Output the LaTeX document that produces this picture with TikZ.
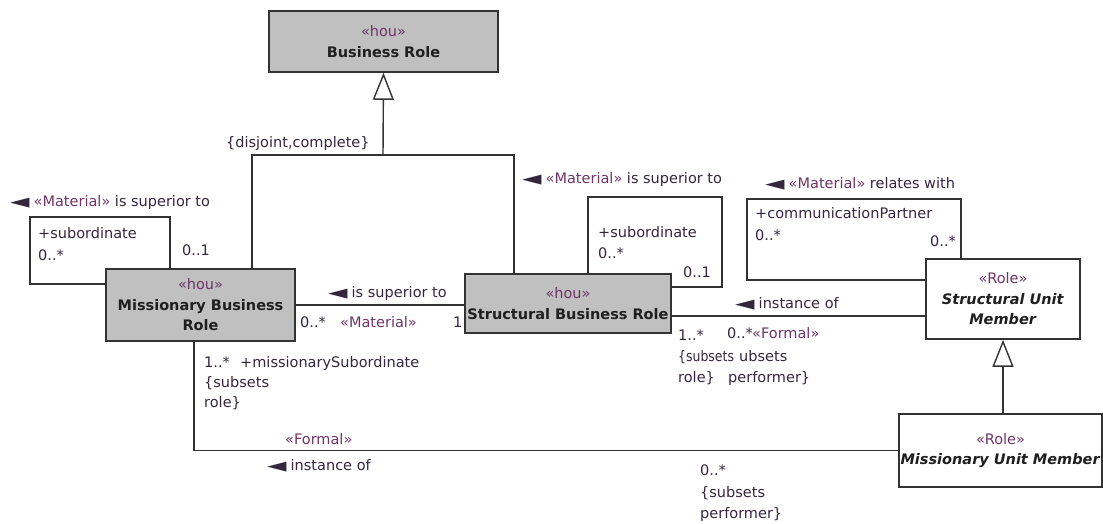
\documentclass[tikz,border=0pt]{standalone}
\usepackage{fontspec}
\setmainfont{DejaVu Sans}
\usetikzlibrary{arrows.meta,positioning}
\definecolor{stereo}{HTML}{6E3468}
\definecolor{lbl}{HTML}{33263D}
\definecolor{rolegray}{HTML}{C0C0C0}
\definecolor{edge}{HTML}{333333}
\newcommand{\dirl}{\scalebox{1.75}[0.9]{◀}\hspace{4pt}}
\newcommand{\st}[1]{\textcolor{stereo}{«#1»}}

\begin{document}
\begin{tikzpicture}[x=1pt,y=-1pt,
  umlclass/.style={draw=edge,line width=1.6pt,fill=rolegray,inner sep=0pt,align=center,
    text=black!88,font=\fontsize{14.5}{20.5}\selectfont},
  umlrole/.style={umlclass,fill=white},
  assoc/.style={draw=edge,line width=1.4pt},
  gen/.style={assoc,-{Triangle[open,length=27pt,width=21pt,fill=white]}},
  tag/.style={anchor=west,inner sep=0pt,text height=11pt,text depth=0pt,text=lbl,
    font=\fontsize{14.5}{20.5}\selectfont}]
\useasboundingbox (0,0) rectangle (1103,523);

% classes
\node[umlclass,minimum width=229pt,minimum height=61pt] (br) at (383.5,41.5)
  {\st{hou}\\\textbf{Business Role}};
\node[umlclass,minimum width=189pt,minimum height=72pt] (mbr) at (200.5,305)
  {\st{hou}\\\textbf{Missionary Business}\\\textbf{Role}};
\node[umlclass,minimum width=206pt,minimum height=59pt] (sbr) at (568,303.5)
  {\st{hou}\\\textbf{Structural Business Role}};
\node[umlrole,minimum width=154pt,minimum height=80pt] (sum) at (1003,299)
  {\st{Role}\\\textbf{\textit{Structural Unit}}\\\textbf{\textit{Member}}};
\node[umlrole,minimum width=203pt,minimum height=73pt] (mum) at (1000.5,450.5)
  {\st{Role}\\\textbf{\textit{Missionary Unit Member}}};

% generalizations
\coordinate (hub) at (383,155);
\draw[gen] (hub) -- (br.south);
\draw[assoc] ([xshift=51.5pt]mbr.north) |- (hub) -| ([xshift=-54pt]sbr.north);
\draw[gen] (sum.south |- mum.north) -- (sum.south);

% self associations
\draw[assoc] ([xshift=-30.5pt]mbr.north) |- (30,217) |- ([yshift=21pt]mbr.west);
\draw[assoc] ([xshift=20pt]sbr.north) |- (722,197) |- ([yshift=16.5pt]sbr.east);
\draw[assoc] ([xshift=-42pt]sum.north) |- (747,199) |- ([yshift=19pt]sum.west);

% associations
\draw[assoc] (mbr.east) -- (mbr.east -| sbr.west);
\draw[assoc] ([yshift=-12.5pt]sbr.east) -- ([yshift=-12.5pt]sbr.east -| sum.west);
\draw[assoc] ([xshift=-6.5pt]mbr.south) |- (mum.west);

% labels
\node[tag] (dc) at (226,142) {\{disjoint,complete\}};
\node[tag] (sup1) at (10,201) {\dirl\st{Material} is superior to};
\node[tag] (sub1) at (38,233) {+subordinate};
\node[tag] (sub1m) at (38,255) {0..*};
\node[tag] (sup1m) at (182,250) {0..1};
\node[tag] (sup2) at (328,292) {\dirl is superior to};
\node[tag] (mul2a) at (300,322) {0..*};
\node[tag] (st2) at (340,322) {\st{Material}};
\node[tag] (mul2b) at (453,322) {1};
\node[tag] (msm) at (204,362) {1..*};
\node[tag] (msr) at (240,362) {+missionarySubordinate};
\node[tag] (ms2) at (204,382) {\{subsets};
\node[tag] (ms3) at (204,402) {role\}};
\node[tag] (sup3) at (522,178) {\dirl\st{Material} is superior to};
\node[tag] (sub3) at (598,232) {+subordinate};
\node[tag] (sub3m) at (598,253) {0..*};
\node[tag] (sup3m) at (683,272) {0..1};
\node[tag] (rel) at (765,183) {\dirl\st{Material} relates with};
\node[tag] (cp) at (755,213) {+communicationPartner};
\node[tag] (cpm) at (755,235) {0..*};
\node[tag] (cpm2) at (930,241) {0..*};
\node[tag] (inst1) at (735,303) {\dirl instance of};
\node[tag] (r1m) at (678,335) {1..*};
\node[tag] (r1s) at (678,356) {\scalebox{0.86}[1]{\{subsets}};
\node[tag] (r1r) at (678,377) {role\}};
\node[tag] (p1m) at (727,333) {0..*};
\node[tag] (p1st) at (752,333) {\st{Formal}};
\node[tag] (p1s) at (739,356) {ubsets};
\node[tag] (p1p) at (728,377) {performer\}};
\node[tag] (st4) at (285,439) {\st{Formal}};
\node[tag] (inst2) at (267,465) {\dirl instance of};
\node[tag] (p2m) at (700,470) {0..*};
\node[tag] (p2s) at (700,492) {\{subsets};
\node[tag] (p2p) at (700,513) {performer\}};
\end{tikzpicture}
\end{document}
